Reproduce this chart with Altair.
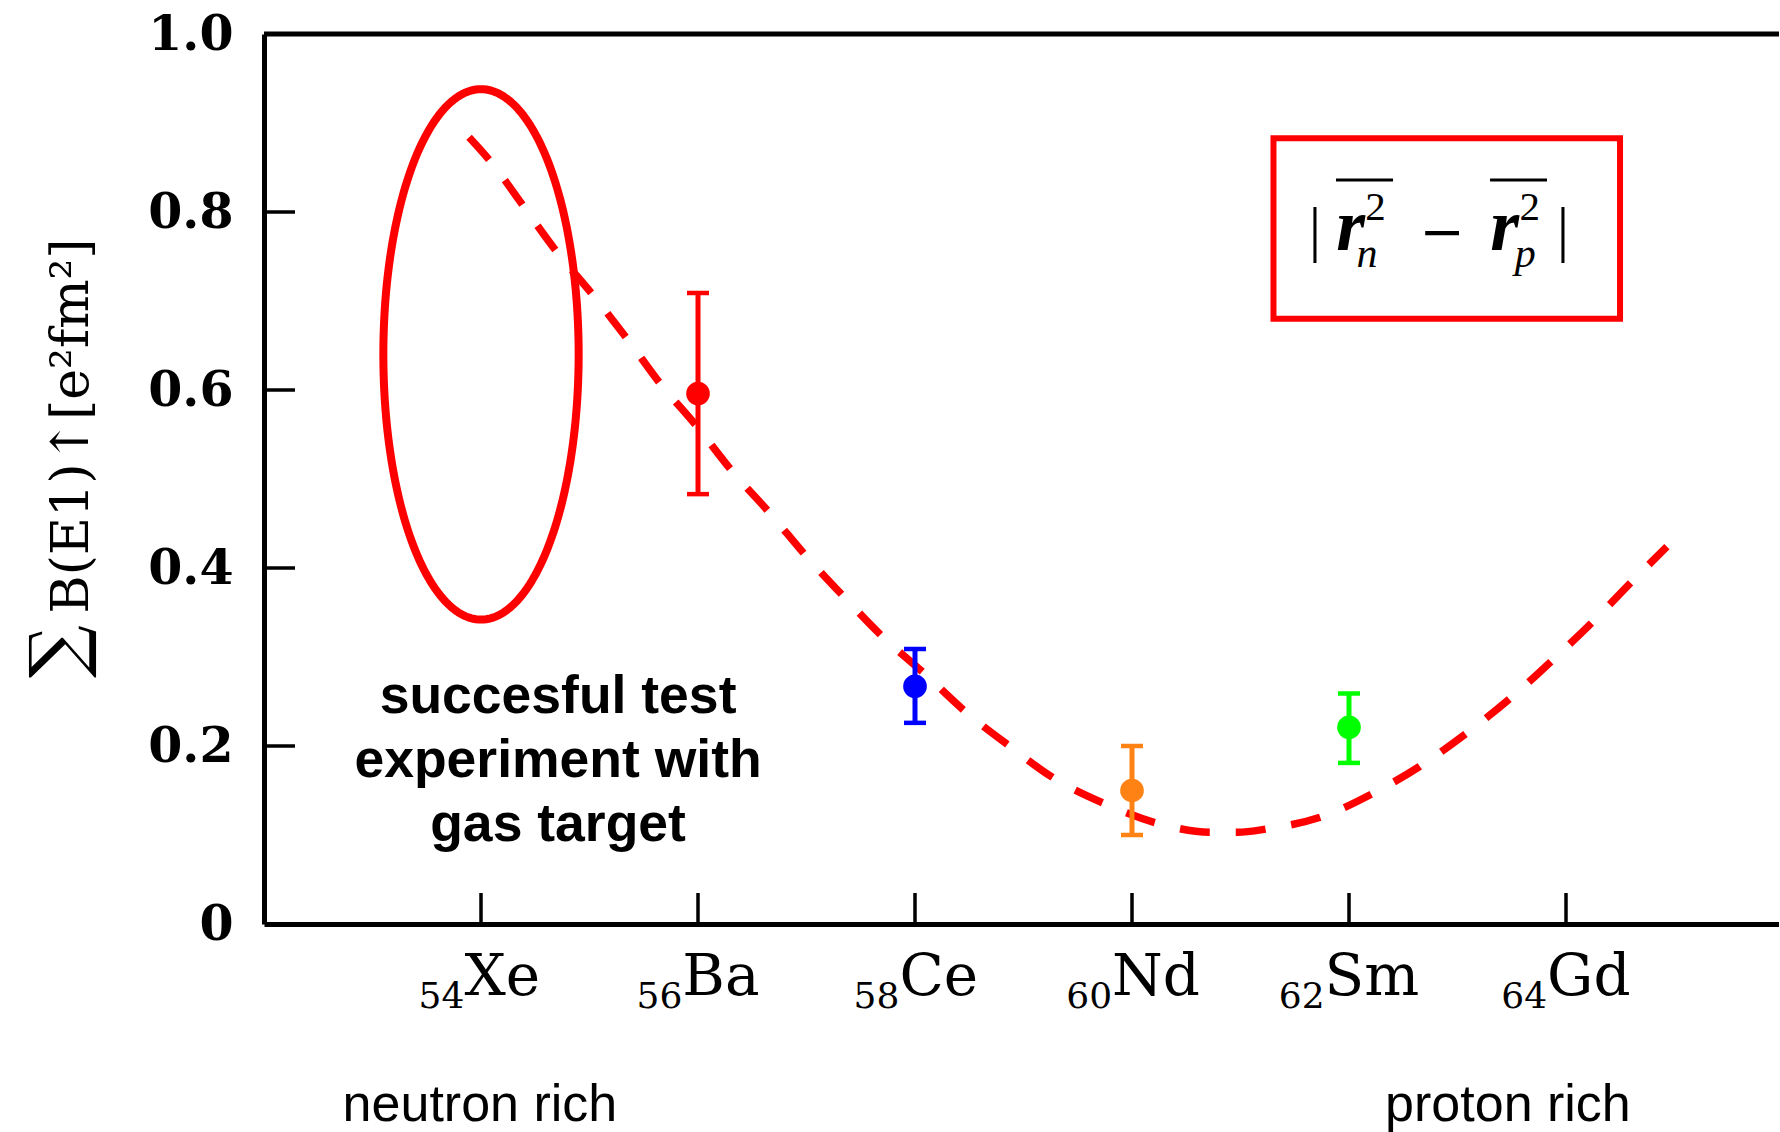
import altair as alt
import numpy as np
import pandas as pd

# ---- measured summed B(E1)up strengths [e^2 fm^2] ----
elements = ["Ba", "Ce", "Nd", "Sm"]
element_z = [56, 58, 60, 62]
bE1 = [0.596, 0.267, 0.150, 0.221]
bE1_low = [0.483, 0.226, 0.100, 0.181]
bE1_high = [0.709, 0.309, 0.200, 0.259]
element_colors = ["#ff0000", "#0000ff", "#ff8214", "#00ff00"]

# ---- model curve |<r_n^2> - <r_p^2>| (scaled) ----
curve_z = [53.89, 54.10, 54.40, 54.70, 55.03, 55.35, 55.66, 55.99, 56.32, 56.66,
           57.00, 57.35, 57.70, 58.09, 58.47, 58.87, 59.29, 59.75, 60.24, 60.74,
           60.97, 61.25, 61.76, 62.24, 62.65, 63.09, 63.50, 63.88, 64.25, 64.61, 64.93]
curve_b = [0.884, 0.855, 0.805, 0.755, 0.707, 0.657, 0.606, 0.559, 0.508, 0.462,
           0.413, 0.367, 0.323, 0.281, 0.238, 0.200, 0.163, 0.135, 0.113, 0.103,
           0.103, 0.107, 0.121, 0.148, 0.177, 0.215, 0.255, 0.297, 0.340, 0.385, 0.424]

# ---- axis ticks ----
tick_z = [54, 56, 58, 60, 62, 64]
tick_sub = ["54", "56", "58", "60", "62", "64"]
tick_sym = ["Xe", "Ba", "Ce", "Nd", "Sm", "Gd"]
y_ticks = [0.0, 0.2, 0.4, 0.6, 0.8, 1.0]

# ---- layout ----
W, H = 1515, 890
PXZ = 108.5                      # pixels per unit of Z
Z_MIN, Z_MAX = 52.0, 52.0 + W / PXZ
PXY = H                          # pixels per unit of B(E1)

RED = "#ff0000"
SERIF = "DejaVu Serif"
TIMES = "Liberation Serif"
SANS = "Liberation Sans"

xs = alt.Scale(domain=[Z_MIN, Z_MAX], nice=False, zero=False)
ys = alt.Scale(domain=[0, 1], nice=False, zero=False)

# identical axis definitions in every layer so the layered axes merge cleanly
x_axis = alt.Axis(title=None, labels=False, ticks=False, grid=False, domain=True,
                  domainColor="black", domainWidth=5)
y_axis = alt.Axis(
    title=None, values=y_ticks, ticks=False, tickSize=0, grid=False,
    labelPadding=31, labelFont=SERIF, labelFontSize=49, labelFontWeight="bold",
    labelColor="black", labelFlush=False, labelOverlap=False,
    labelExpr="datum.value == 0 ? '0' : format(datum.value, '.1f')",
    domain=True, domainColor="black", domainWidth=5)


def X(f):
    return alt.X(f, type="quantitative", scale=xs, axis=x_axis)


def Y(f):
    return alt.Y(f, type="quantitative", scale=ys, axis=y_axis)


# inward y ticks
ytick_len = 31 / PXZ
df_yt = pd.DataFrame({"y": y_ticks[1:-1]})
df_yt["x0"] = Z_MIN
df_yt["x1"] = Z_MIN + ytick_len
yticks = alt.Chart(df_yt).mark_rule(color="black", strokeWidth=3.5).encode(
    x=X("x0"), x2="x1", y=Y("y"))

top_line = alt.Chart(pd.DataFrame({"top": [1.0]})).mark_rule(
    color="black", strokeWidth=5).encode(y=Y("top"))

# inward x ticks
xtick_len = 31 / PXY
df_xt = pd.DataFrame({"z": tick_z})
df_xt["y0"] = 0.0
df_xt["y1"] = xtick_len
xticks = alt.Chart(df_xt).mark_rule(color="black", strokeWidth=3.5).encode(
    x=X("z"), y=Y("y0"), y2="y1")

# x tick labels: subscript proton number + element symbol, centred on the tick
SYM_SIZE, SUB_SIZE = 58, 36
adv = {"X": 0.770, "e": 0.592, "B": 0.733, "a": 0.596, "C": 0.735, "N": 0.836,
       "d": 0.640, "S": 0.685, "m": 0.948, "G": 0.801}
split = []
for s, sub in zip(tick_sym, tick_sub):
    w_sym = sum(adv[c] for c in s) * SYM_SIZE
    w_sub = len(sub) * 0.636 * SUB_SIZE
    split.append((w_sub - w_sym) / 2 / PXZ)
df_lab = pd.DataFrame({"zb": np.array(tick_z) + np.array(split),
                       "sym": tick_sym, "sub": tick_sub})
df_lab["ysym"] = -0.0798
df_lab["ysub"] = -0.0944
sym_text = alt.Chart(df_lab).mark_text(
    font=SERIF, fontSize=SYM_SIZE, align="left", baseline="alphabetic", color="black"
).encode(x=X("zb"), y=Y("ysym"), text="sym:N")
sub_text = alt.Chart(df_lab).mark_text(
    font=SERIF, fontSize=SUB_SIZE, align="right", baseline="alphabetic", color="black"
).encode(x=X("zb"), y=Y("ysub"), text="sub:N")

# y axis title
ytitle_sum = alt.Chart(pd.DataFrame({"z": [50.12], "y": [0.306], "t": ["∑"]})).mark_text(
    font=SERIF, fontSize=74, angle=270, align="center", baseline="middle", color="black"
).encode(x=X("z"), y=Y("y"), text="t:N")
ytitle_rest = alt.Chart(pd.DataFrame({"z": [50.38], "y": [0.349],
                                      "t": ["B(E1)↑[e²fm²]"]})).mark_text(
    font=SERIF, fontSize=52, angle=270, align="left", baseline="alphabetic", color="black"
).encode(x=X("z"), y=Y("y"), text="t:N")

# ellipse around the Xe region
ell_t = np.linspace(0, 2 * np.pi, 241)
df_ell = pd.DataFrame({"i": np.arange(ell_t.size),
                       "z": 54.0 + 0.90 * np.cos(ell_t),
                       "y": 0.640 + 0.298 * np.sin(ell_t)})
ellipse = alt.Chart(df_ell).mark_line(color=RED, strokeWidth=8, strokeJoin="round").encode(
    x=X("z"), y=Y("y"), order="i:Q")

# dashed model curve
curve = alt.Chart(pd.DataFrame({"z": curve_z, "b": curve_b})).mark_line(
    color=RED, strokeWidth=7.5, strokeDash=[30, 26], interpolate="monotone"
).encode(x=X("z"), y=Y("b"))

# data points with error bars
df_pts = pd.DataFrame({"el": elements, "z": element_z, "b": bE1,
                       "lo": bE1_low, "hi": bE1_high})
cap_half = 11 / PXZ
df_pts["c0"] = df_pts["z"] - cap_half
df_pts["c1"] = df_pts["z"] + cap_half
col = alt.Color("el:N", scale=alt.Scale(domain=elements, range=element_colors), legend=None)
bars = alt.Chart(df_pts).mark_rule(strokeWidth=5).encode(
    x=X("z"), y=Y("lo"), y2="hi", color=col)
cap_lo = alt.Chart(df_pts).mark_rule(strokeWidth=4.5).encode(
    x=X("c0"), x2="c1", y=Y("lo"), color=col)
cap_hi = alt.Chart(df_pts).mark_rule(strokeWidth=4.5).encode(
    x=X("c0"), x2="c1", y=Y("hi"), color=col)
points = alt.Chart(df_pts).mark_circle(size=560, opacity=1).encode(
    x=X("z"), y=Y("b"), color=col)

# formula box |<r_n^2> - <r_p^2>|
box = alt.Chart(pd.DataFrame({"z0": [61.304], "z1": [64.498],
                              "y0": [0.680], "y1": [0.883]})).mark_rect(
    filled=False, color=RED, strokeWidth=6).encode(
    x=X("z0"), x2="z1", y=Y("y0"), y2="y1")

f_abs = alt.Chart(pd.DataFrame({"z": [61.687, 63.972], "y": [0.7573] * 2,
                                "t": ["|", "|"]})).mark_text(
    font=TIMES, fontSize=62, align="center", baseline="alphabetic", color="black"
).encode(x=X("z"), y=Y("y"), text="t:N")
f_minus = alt.Chart(pd.DataFrame({"z": [62.857], "y": [0.7573], "t": ["−"]})).mark_text(
    font=SERIF, fontSize=54, align="center", baseline="alphabetic", color="black"
).encode(x=X("z"), y=Y("y"), text="t:N")
f_r = alt.Chart(pd.DataFrame({"z": [62.015, 63.435], "y": [0.7573] * 2,
                              "t": ["r", "r"]})).mark_text(
    font=TIMES, fontSize=74, fontStyle="italic", fontWeight="bold", align="center",
    baseline="alphabetic", color="black"
).encode(x=X("z"), y=Y("y"), text="t:N")
f_sub = alt.Chart(pd.DataFrame({"z": [62.165, 63.625], "y": [0.7382] * 2,
                                "t": ["n", "p"]})).mark_text(
    font=TIMES, fontSize=42, fontStyle="italic", align="center",
    baseline="alphabetic", color="black"
).encode(x=X("z"), y=Y("y"), text="t:N")
f_sup = alt.Chart(pd.DataFrame({"z": [62.245, 63.665], "y": [0.7910] * 2,
                                "t": ["2", "2"]})).mark_text(
    font=TIMES, fontSize=41, align="center", baseline="alphabetic", color="black"
).encode(x=X("z"), y=Y("y"), text="t:N")
f_bar = alt.Chart(pd.DataFrame({"z0": [61.880, 63.300], "z1": [62.406, 63.825],
                                "y": [0.836] * 2})).mark_rule(
    color="black", strokeWidth=3).encode(x=X("z0"), x2="z1", y=Y("y"))

# annotations
note = alt.Chart(pd.DataFrame({
    "z": [54.71] * 3, "y": [0.2371, 0.1652, 0.0933],
    "t": ["succesful test", "experiment with", "gas target"]})).mark_text(
    font=SANS, fontSize=53.5, fontWeight="bold", align="center", baseline="alphabetic",
    color="black").encode(x=X("z"), y=Y("y"), text="t:N")
rich = alt.Chart(pd.DataFrame({
    "z": [53.99, 63.465], "y": [-0.2213] * 2,
    "t": ["neutron rich", "proton rich"]})).mark_text(
    font=SANS, fontSize=52, align="center", baseline="alphabetic",
    color="black").encode(x=X("z"), y=Y("y"), text="t:N")

chart = alt.layer(
    yticks, top_line, xticks, ellipse, curve, bars, cap_lo, cap_hi, points,
    box, f_bar, f_abs, f_minus, f_r, f_sub, f_sup, note, rich, sym_text, sub_text,
    ytitle_sum, ytitle_rest,
).properties(
    width=W, height=H,
    autosize=alt.AutoSizeParams(type="none"),
    padding={"left": 264, "top": 34, "right": 0, "bottom": 208},
    background="white",
).configure_view(strokeWidth=0)

chart.save("out.html", embed_options={"renderer": "svg", "actions": False})
